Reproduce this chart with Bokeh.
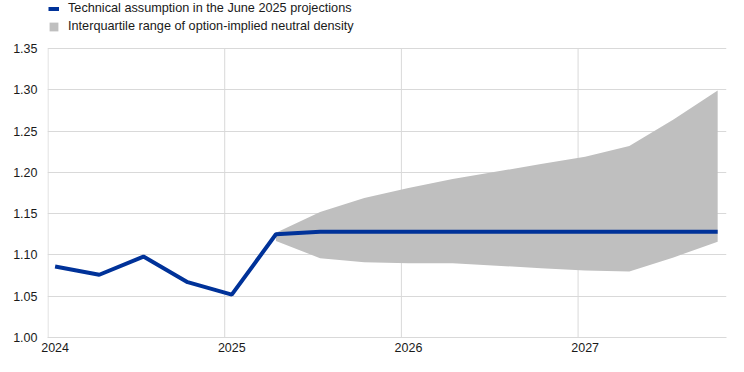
from bokeh.plotting import figure
from bokeh.models import (Legend, LegendItem, FixedTicker, NumeralTickFormatter,
                          Range1d, ColumnDataSource, CustomJSTickFormatter)
from bokeh.embed import file_html
from bokeh.resources import INLINE

# ---- data ----
quarters = ["2024Q1", "2024Q2", "2024Q3", "2024Q4",
            "2025Q1", "2025Q2", "2025Q3", "2025Q4",
            "2026Q1", "2026Q2", "2026Q3", "2026Q4",
            "2027Q1", "2027Q2", "2027Q3", "2027Q4"]
technical_assumption = [1.086, 1.076, 1.098, 1.067,
                        1.052, 1.125, 1.128, 1.128,
                        1.128, 1.128, 1.128, 1.128,
                        1.128, 1.128, 1.128, 1.128]
band_quarters = ["2025Q2", "2025Q3", "2025Q4",
                 "2026Q1", "2026Q2", "2026Q3", "2026Q4",
                 "2027Q1", "2027Q2", "2027Q3", "2027Q4"]
band_lower = [1.117, 1.096, 1.091, 1.090, 1.090, 1.087, 1.084, 1.081, 1.080, 1.097, 1.116]
band_upper = [1.127, 1.152, 1.169, 1.181, 1.192, 1.201, 1.210, 1.219, 1.232, 1.264, 1.299]
years = [2024, 2025, 2026, 2027]
y_ticks = [1.00, 1.05, 1.10, 1.15, 1.20, 1.25, 1.30, 1.35]


def qpos(q):
    year = int(q[:4])
    n = int(q[-1])
    return year + (n - 1) * 0.25 + 0.04


FONT = "Liberation Sans"
BLUE = "#003299"
GREY = "#bfbfbf"
GRID = "#d9d9d9"
TEXT = "#1a1a1a"

W, H = 728, 356
BORDER_BOTTOM = 19
PLOT_TOP_PX = 48          # where the top tick (1.35) sits, leaving room for the legend
frame_h = H - BORDER_BOTTOM
y_lo, y_hi = y_ticks[0], y_ticks[-1]
y_top = y_hi + PLOT_TOP_PX / (frame_h - PLOT_TOP_PX) * (y_hi - y_lo)

line_src = ColumnDataSource(dict(x=[qpos(q) for q in quarters], y=technical_assumption))
band_src = ColumnDataSource(dict(x=[qpos(q) for q in band_quarters], lo=band_lower, hi=band_upper))
vgrid_src = ColumnDataSource(dict(x=years, y0=[y_lo] * len(years), y1=[y_hi] * len(years)))

p = figure(width=W, height=H, output_backend="svg", toolbar_location=None,
           x_range=Range1d(2023.997, 2027.84), y_range=Range1d(y_lo, y_top),
           min_border_left=47, min_border_right=2, min_border_top=0,
           min_border_bottom=BORDER_BOTTOM)
p.outline_line_color = None
p.background_fill_color = "white"
p.border_fill_color = "white"

# vertical grid lines limited to the value range
p.segment(x0="x", y0="y0", x1="x", y1="y1", source=vgrid_src, line_color=GRID, line_width=1)
band_r = p.varea(x="x", y1="lo", y2="hi", source=band_src, fill_color=GREY, fill_alpha=1.0)
line_r = p.line(x="x", y="y", source=line_src, line_color=BLUE, line_width=4)

# axes
p.xaxis.ticker = FixedTicker(ticks=[qpos(f"{y}Q1") for y in years])
p.xaxis.formatter = CustomJSTickFormatter(code="return Math.floor(tick).toString();")
p.xgrid.visible = False
p.yaxis.ticker = FixedTicker(ticks=y_ticks)
p.ygrid.ticker = FixedTicker(ticks=y_ticks)
p.yaxis.formatter = NumeralTickFormatter(format="0.00")

for ax in (p.xaxis[0], p.yaxis[0]):
    ax.major_tick_line_color = None
    ax.minor_tick_line_color = None
    ax.major_tick_out = 0
    ax.major_tick_in = 0
    ax.major_label_text_font = FONT
    ax.major_label_text_font_size = "12.5px"
    ax.major_label_text_color = TEXT
p.yaxis.axis_line_color = None
p.xaxis.axis_line_color = GRID
p.yaxis.major_label_standoff = 10
p.xaxis.major_label_standoff = 5

p.ygrid.grid_line_color = GRID

legend = Legend(items=[
    LegendItem(label="Technical assumption in the June 2025 projections", renderers=[line_r]),
    LegendItem(label="Interquartile range of option-implied neutral density", renderers=[band_r]),
], location="top_left", orientation="vertical", border_line_alpha=0, background_fill_alpha=0,
    padding=0, margin=1, spacing=4, glyph_width=11, glyph_height=11, label_standoff=9,
    label_text_font=FONT, label_text_font_size="12.7px", label_text_color=TEXT, label_height=12)
p.add_layout(legend, "center")

open("out.html", "w").write(file_html(p, INLINE))
